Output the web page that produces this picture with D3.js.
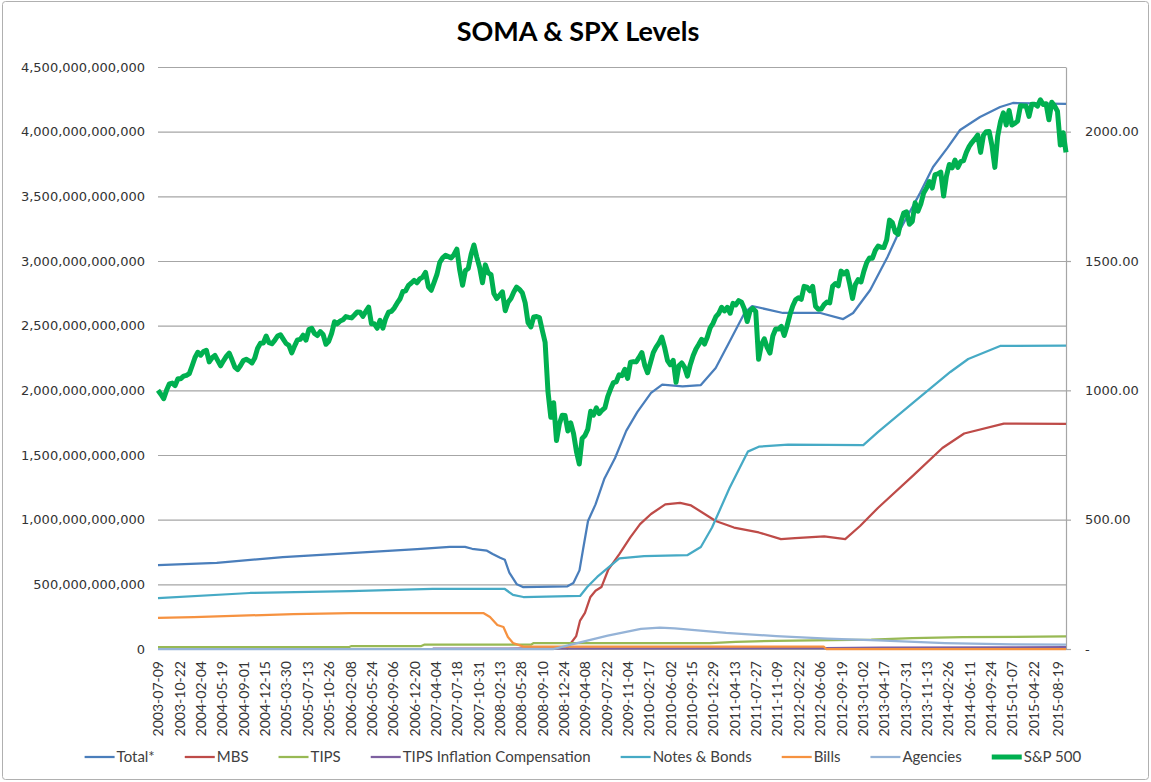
<!DOCTYPE html>
<html>
<head>
<meta charset="utf-8">
<script src="https://cdn.jsdelivr.net/npm/d3@7"></script>
<style>
body { margin: 0; background: #fff; }
</style>
</head>
<body>
<svg id="chart" width="1151" height="782"></svg>
<script>
let parse = d3.timeParse('%Y-%m-%d');

// SOMA holdings in billions of dollars
let total = [
	['2003-07-09', 649], ['2004-04-23', 665], ['2005-03-14', 711], ['2006-02-09', 742],
	['2007-01-04', 773], ['2007-06-13', 789], ['2007-08-27', 790], ['2007-10-01', 775],
	['2007-12-13', 760], ['2008-01-10', 735], ['2008-02-16', 705], ['2008-03-10', 690],
	['2008-04-01', 590], ['2008-05-08', 500], ['2008-06-09', 478], ['2009-01-12', 485],
	['2009-02-10', 510], ['2009-03-12', 608], ['2009-03-30', 773], ['2009-04-23', 990],
	['2009-05-30', 1118], ['2009-07-13', 1319], ['2009-09-03', 1477], ['2009-10-28', 1687],
	['2009-12-22', 1833], ['2010-02-27', 1980], ['2010-04-23', 2044], ['2010-08-01', 2030],
	['2010-10-30', 2041], ['2011-01-11', 2172], ['2011-03-20', 2375], ['2011-06-03', 2602],
	['2011-07-09', 2652], ['2011-12-08', 2598], ['2012-06-09', 2598], ['2012-09-29', 2551],
	['2012-11-17', 2598], ['2013-02-09', 2776], ['2013-05-05', 3031], ['2013-07-05', 3240],
	['2013-10-12', 3525], ['2013-12-15', 3727], ['2014-02-23', 3873], ['2014-04-27', 4013],
	['2014-08-03', 4113], ['2014-11-10', 4191], ['2015-01-12', 4222], ['2015-09-30', 4214]
];

let mbs = [
	['2009-01-07', 0], ['2009-02-24', 100], ['2009-03-15', 220], ['2009-04-08', 280],
	['2009-05-04', 400], ['2009-05-30', 450], ['2009-06-28', 479], ['2009-07-31', 611],
	['2009-09-24', 734], ['2009-11-17', 863], ['2010-01-04', 966], ['2010-02-27', 1044],
	['2010-05-08', 1118], ['2010-07-20', 1130], ['2010-09-12', 1110], ['2011-01-11', 990],
	['2011-04-11', 939], ['2011-08-11', 901], ['2011-11-28', 850], ['2012-02-05', 858],
	['2012-06-28', 870], ['2012-10-09', 850], ['2012-12-21', 951], ['2013-03-20', 1092],
	['2013-09-13', 1348], ['2014-01-30', 1554], ['2014-05-17', 1666], ['2014-11-28', 1743],
	['2015-09-30', 1740]
];

let tips = [
	['2003-07-09', 14], ['2006-02-01', 14], ['2006-02-15', 23], ['2007-01-24', 23],
	['2007-02-07', 33], ['2008-07-16', 33], ['2008-07-30', 46], ['2010-12-15', 46],
	['2011-04-20', 56], ['2011-11-02', 63], ['2013-02-14', 73], ['2013-09-04', 85],
	['2014-05-07', 92], ['2015-09-30', 97]
];

let tipsComp = [
	['2007-03-21', 2], ['2008-07-01', 4], ['2010-06-01', 5], ['2012-07-01', 7],
	['2013-04-01', 11], ['2015-09-30', 14]
];

let notesBonds = [
	['2003-07-09', 394], ['2004-10-04', 433], ['2006-02-09', 448], ['2007-03-21', 464],
	['2008-03-10', 464], ['2008-04-19', 418], ['2008-06-09', 402], ['2009-03-15', 410],
	['2009-04-19', 479], ['2009-06-07', 557], ['2009-09-24', 700], ['2010-01-24', 718],
	['2010-08-24', 725], ['2010-10-30', 789], ['2010-12-24', 939], ['2011-03-20', 1245],
	['2011-06-18', 1526], ['2011-08-11', 1564], ['2012-01-02', 1580], ['2013-01-06', 1577],
	['2013-03-20', 1679], ['2013-09-13', 1910], ['2014-03-10', 2142], ['2014-06-06', 2242],
	['2014-11-10', 2343], ['2015-09-30', 2345]
];

let bills = [
	['2003-07-09', 240], ['2004-01-01', 247], ['2005-05-05', 270], ['2006-02-09', 278],
	['2007-11-25', 278], ['2007-12-28', 247], ['2008-02-02', 186], ['2008-03-03', 170],
	['2008-03-25', 93], ['2008-04-19', 46], ['2008-06-09', 18], ['2012-06-25', 18],
	['2012-07-08', 0], ['2015-09-30', 0]
];

let agencies = [
	['2003-07-09', 0], ['2008-11-05', 0], ['2009-02-13', 39], ['2009-07-29', 103],
	['2010-01-08', 155], ['2010-04-11', 165], ['2010-06-24', 160], ['2011-03-03', 125],
	['2011-11-05', 100], ['2012-07-13', 80], ['2013-03-20', 66], ['2014-02-12', 46],
	['2015-01-12', 36], ['2015-09-30', 33]
];

// S&P 500, one close every two weeks from 2003-07-09
let spxStart = '2003-07-09';
let spxClose = [
	1000, 985, 968, 1000, 1025, 1028, 1018, 1045, 1045, 1055, 1058, 1065, 1095,
	1127, 1147, 1136, 1150, 1155, 1110, 1126, 1135, 1115, 1095, 1114, 1131, 1144, 1118, 1090, 1080, 1096, 1115, 1120, 1114, 1106, 1125, 1163, 1182, 1183, 1210,
	1184, 1180, 1193, 1210, 1215, 1198, 1181, 1174, 1145, 1172, 1195, 1197, 1213, 1194, 1235, 1240, 1220, 1212, 1227, 1216, 1178, 1190, 1220, 1265, 1257, 1268,
	1273, 1285, 1282, 1280, 1291, 1303, 1302, 1286, 1305, 1322, 1257, 1257, 1240, 1271, 1240, 1278, 1302, 1305, 1318, 1337, 1353, 1382, 1385, 1406, 1415, 1425,
	1416, 1431, 1438, 1456, 1400, 1387, 1417, 1448, 1495, 1512, 1522, 1517, 1512, 1525, 1546, 1465, 1406, 1463, 1471, 1525, 1562, 1515, 1475, 1416, 1485, 1454,
	1447, 1374, 1355, 1367, 1381, 1308, 1341, 1355, 1380, 1399, 1390, 1377, 1338, 1262, 1245, 1284, 1285, 1281, 1232, 1186, 996, 896, 952, 806, 870, 904, 903,
	843, 874, 833, 764, 715, 814, 825, 850, 919, 904, 932, 910, 923, 932, 976, 1005, 1030, 1033, 1060, 1057, 1081, 1046, 1109, 1111, 1110, 1127,
	1146, 1097, 1068, 1106, 1146, 1167, 1183, 1206, 1165, 1115, 1099, 1116, 1031, 1095, 1106, 1089, 1055, 1099, 1134, 1160, 1178, 1197, 1179, 1206, 1242, 1259,
	1285, 1297, 1321, 1307, 1321, 1298, 1336, 1330, 1347, 1341, 1315, 1266, 1307, 1317, 1305, 1120, 1177, 1199, 1166, 1144, 1210, 1237, 1237, 1247, 1212, 1249,
	1292, 1326, 1350, 1358, 1352, 1402, 1399, 1385, 1402, 1325, 1313, 1314, 1331, 1341, 1338, 1402, 1413, 1404, 1461, 1450, 1460, 1412, 1355, 1409, 1428, 1419,
	1461, 1494, 1512, 1511, 1541, 1558, 1553, 1552, 1582, 1658, 1648, 1612, 1603, 1652, 1685, 1690, 1642, 1653, 1725, 1693, 1721, 1763, 1782, 1807, 1782, 1834,
	1837, 1844, 1751, 1828, 1873, 1860, 1890, 1862, 1884, 1888, 1920, 1943, 1959, 1972, 1987, 1920, 1986, 2000, 2001, 1946, 1862, 1982, 2039, 2073, 2026, 2082,
	2026, 2032, 2041, 2100, 2099, 2099, 2059, 2106, 2106, 2099, 2123, 2105, 2108, 2046, 2114, 2099, 2079, 1948, 1996, 1920
];

let xTickLabels = [
	'2003-07-09', '2003-10-22', '2004-02-04', '2004-05-19', '2004-09-01', '2004-12-15',
	'2005-03-30', '2005-07-13', '2005-10-26', '2006-02-08', '2006-05-24', '2006-09-06',
	'2006-12-20', '2007-04-04', '2007-07-18', '2007-10-31', '2008-02-13', '2008-05-28',
	'2008-09-10', '2008-12-24', '2009-04-08', '2009-07-22', '2009-11-04', '2010-02-17',
	'2010-06-02', '2010-09-15', '2010-12-29', '2011-04-13', '2011-07-27', '2011-11-09',
	'2012-02-22', '2012-06-06', '2012-09-19', '2013-01-02', '2013-04-17', '2013-07-31',
	'2013-11-13', '2014-02-26', '2014-06-11', '2014-09-24', '2015-01-07', '2015-04-22',
	'2015-08-19'
];
let leftTicks = [0, 5e11, 1e12, 1.5e12, 2e12, 2.5e12, 3e12, 3.5e12, 4e12, 4.5e12];
let rightTicks = [0, 500, 1000, 1500, 2000];

let series = [
	{name: 'Total*', data: total, color: '#4A7EBB'},
	{name: 'MBS', data: mbs, color: '#BE4B48'},
	{name: 'TIPS', data: tips, color: '#98B954'},
	{name: 'TIPS Inflation Compensation', data: tipsComp, color: '#7D60A0'},
	{name: 'Notes & Bonds', data: notesBonds, color: '#46AAC5'},
	{name: 'Bills', data: bills, color: '#F69240'},
	{name: 'Agencies', data: agencies, color: '#95B3D7'}
];

let plotLeft = 158, plotRight = 1066, plotTop = 67, plotBottom = 649;
let gridColor = '#a6a6a6';

let svg = d3.select('#chart');

let x = d3.scaleTime()
	.domain([parse('2003-07-09'), parse('2015-09-30')])
	.range([plotLeft, plotRight]);
let y = d3.scaleLinear().domain([0, 4.5e12]).range([plotBottom, plotTop]);
let y2 = d3.scaleLinear().domain([0, 2250]).range([plotBottom, plotTop]);

// chart frame
svg.append('rect')
	.attr('x', 2.5).attr('y', 1.5)
	.attr('width', 1146).attr('height', 778)
	.attr('rx', 3)
	.attr('fill', '#fff')
	.attr('stroke', '#b0b0b0');

svg.append('text')
	.attr('x', 578).attr('y', 41)
	.attr('text-anchor', 'middle')
	.attr('font-family', 'Lato, sans-serif')
	.attr('font-weight', 'bold')
	.attr('font-size', 27)
	.text('SOMA & SPX Levels');

// Gridlines
svg.append('g')
	.attr('transform', `translate(${plotLeft},0)`)
	.call(d3.axisLeft(y).tickValues(leftTicks).tickSize(-(plotRight - plotLeft)).tickFormat(''))
	.call(g => g.select('.domain').remove())
	.call(g => g.selectAll('line').attr('stroke', gridColor).attr('stroke-width', 1.2));

// Left axis
svg.append('g')
	.attr('transform', `translate(${plotLeft},0)`)
	.call(d3.axisLeft(y).tickValues(leftTicks).tickSize(0).tickPadding(13).tickFormat(d3.format(',.0f')))
	.attr('font-family', 'DejaVu Sans, sans-serif')
	.attr('font-size', 13)
	.call(g => g.select('.domain').remove())
	.call(g => g.selectAll('text').attr('fill', '#333'));

// Right axis
svg.append('g')
	.attr('transform', `translate(${plotRight},0)`)
	.call(d3.axisRight(y2).tickValues(rightTicks).tickSize(5).tickSizeOuter(0).tickPadding(14)
		.tickFormat(d => d === 0 ? '-' : d3.format('.2f')(d)))
	.attr('font-family', 'DejaVu Sans, sans-serif')
	.attr('font-size', 13)
	.call(g => g.selectAll('line, path').attr('stroke', gridColor).attr('stroke-width', 1.2))
	.call(g => g.selectAll('text').attr('fill', '#333'));

// Date axis
svg.append('g')
	.attr('transform', `translate(0,${plotBottom})`)
	.call(d3.axisBottom(x).tickValues(xTickLabels.map(parse)).tickSize(0).tickSizeOuter(0)
		.tickFormat(d3.timeFormat('%Y-%m-%d')))
	.attr('font-family', 'Lato, sans-serif')
	.attr('font-size', 14)
	.call(g => g.select('.domain').attr('stroke', gridColor).attr('stroke-width', 1.2))
	.call(g => g.selectAll('text')
		.attr('fill', '#333')
		.attr('text-anchor', 'end')
		.attr('transform', 'rotate(-90)')
		.attr('x', -12).attr('y', 0).attr('dy', '0.35em'));

// SOMA lines
let somaLine = d3.line()
	.x(d => x(parse(d[0])))
	.y(d => y(d[1] * 1e9));

svg.append('g')
	.selectAll('path')
	.data(series)
	.join('path')
	.attr('d', d => somaLine(d.data))
	.attr('fill', 'none')
	.attr('stroke', d => d.color)
	.attr('stroke-width', 2.25)
	.attr('stroke-linejoin', 'round');

// S&P 500 on the right scale
let spxPoints = spxClose.map((v, i) => [d3.timeDay.offset(parse(spxStart), 14 * i), v]);
let spxLine = d3.line()
	.x(d => x(d[0]))
	.y(d => y2(d[1]));

svg.append('path')
	.attr('d', spxLine(spxPoints))
	.attr('fill', 'none')
	.attr('stroke', '#00B050')
	.attr('stroke-width', 5)
	.attr('stroke-linejoin', 'round');

// Legend
let legendItems = series.map(d => ({name: d.name, color: d.color, width: 2.25}))
	.concat([{name: 'S&P 500', color: '#00B050', width: 5}]);

let legend = svg.append('g')
	.attr('font-family', 'Lato, sans-serif')
	.attr('font-size', 15);

let items = legend.selectAll('g')
	.data(legendItems)
	.join('g');

items.append('line')
	.attr('x1', 0).attr('x2', 30)
	.attr('y1', 0).attr('y2', 0)
	.attr('stroke', d => d.color)
	.attr('stroke-width', d => d.width);

items.append('text')
	.attr('x', 32).attr('dy', '0.35em')
	.attr('fill', '#404040')
	.text(d => d.name);

let gap = 30;
let widths = [];
items.each(function() { widths.push(this.getBBox().width); });
let legendWidth = d3.sum(widths) + gap * (widths.length - 1);
let cursor = 583 - legendWidth / 2;
items.attr('transform', (d, i) => {
	let t = `translate(${cursor},757)`;
	cursor += widths[i] + gap;
	return t;
});
</script>
</body>
</html>
